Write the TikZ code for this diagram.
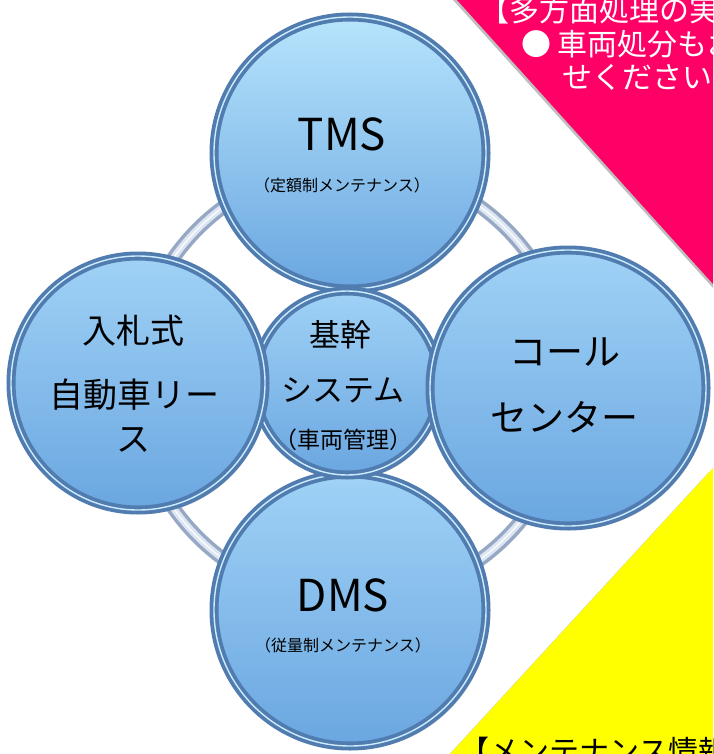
\documentclass[tikz,border=0pt]{standalone}
\usepackage{fontspec}
\setmainfont{Noto Sans CJK JP}
\usetikzlibrary{shadows}

\definecolor{rimdark}{RGB}{80,124,176}
\definecolor{rimlight}{RGB}{205,236,255}
\definecolor{balltop}{RGB}{160,210,246}
\definecolor{ballbot}{RGB}{106,166,224}
\definecolor{tmstop}{RGB}{182,228,252}
\definecolor{tubeedge}{RGB}{150,168,196}
\definecolor{tubefill}{RGB}{220,229,242}
\definecolor{bannerpink}{RGB}{255,0,102}
\definecolor{banneryellow}{RGB}{255,255,0}

\begin{document}
\begin{tikzpicture}[
  x=1pt, y=-1pt,
  ball/.style={circle, inner sep=0pt, draw=rimdark, line width=3.8pt, double=rimlight, double distance=1.4pt,
    top color=balltop, bottom color=ballbot,
    drop shadow={shadow xshift=3pt, shadow yshift=-4pt, opacity=.3}},
  tube/.style={draw=tubeedge, line width=3.5pt, double=tubefill, double distance=7pt,
    postaction={draw=white, line width=1.6pt, opacity=.8}},
  title/.style={inner sep=0pt, text=black, font=\fontsize{44}{48}\selectfont},
  subtitle/.style={inner sep=0pt, text=black, font=\fontsize{16}{18}\selectfont},
  word/.style={inner sep=0pt, text=black, font=\fontsize{#1}{#1}\selectfont},
  banner/.style={inner sep=0pt, anchor=west, font=\fontsize{30}{33}\selectfont}
]
  \useasboundingbox (0,0) rectangle (713,754);
  \clip (0,0) rectangle (713,754);
  \fill[white] (0,0) rectangle (713,754);

  % Dreiecke in den Ecken mit Schatten
  \fill[black, opacity=.25] (453,0) -- (713,0) -- (713,288) -- cycle;
  \fill[bannerpink] (457,0) -- (713,0) -- (713,284) -- cycle;
  \fill[black, opacity=.25] (709,472) -- (709,758) -- (446,758) -- cycle;
  \fill[banneryellow] (713,468) -- (713,754) -- (450,754) -- cycle;

  % Ring hinter den Kreisen
  \draw[tube] (352,383) circle (218);

  % Kreise
  \node[ball, top color=tmstop, minimum size=272pt] (tms) at (350,153) {};
  \node[ball, minimum size=272pt] (dms) at (350,610) {};
  \node[ball, minimum size=184pt] (core) at (347,383) {};
  \node[ball, minimum size=254pt] (lease) at (138,383) {};
  \node[ball, minimum size=276pt] (call) at (568,388) {};

  % Beschriftungen
  \node[title] (tmsname) at (342,134) {TMS};
  \node[subtitle] (tmssub) at (342,185) {（定額制メンテナンス）};
  \node[title] (dmsname) at (343,595) {DMS};
  \node[subtitle] (dmssub) at (343,645) {（従量制メンテナンス）};
  \node[word=31] (core1) at (340,335) {基幹};
  \node[word=31] (core2) at (343,390) {システム};
  \node[word=23] (core3) at (343,440) {（車両管理）};
  \node[word=34] (lease1) at (133,331) {入札式};
  \node[word=34] (lease2) at (134,395) {自動車リー};
  \node[word=34] (lease3) at (133,440) {ス};
  \node[word=37] (call1) at (565,352) {コール};
  \node[word=37] (call2) at (564,417) {センター};

  % Texte in den Ecken
  \node[banner, text=white] (pink1) at (479,10) {【多方面処理の実};
  \node[banner, text=white] (pink2) at (521,44) {● 車両処分もお};
  \node[banner, text=white] (pink3) at (562,77) {せください};
  \node[banner, text=black] (yellow1) at (459,751) {【メンテナンス情報};
\end{tikzpicture}
\end{document}
